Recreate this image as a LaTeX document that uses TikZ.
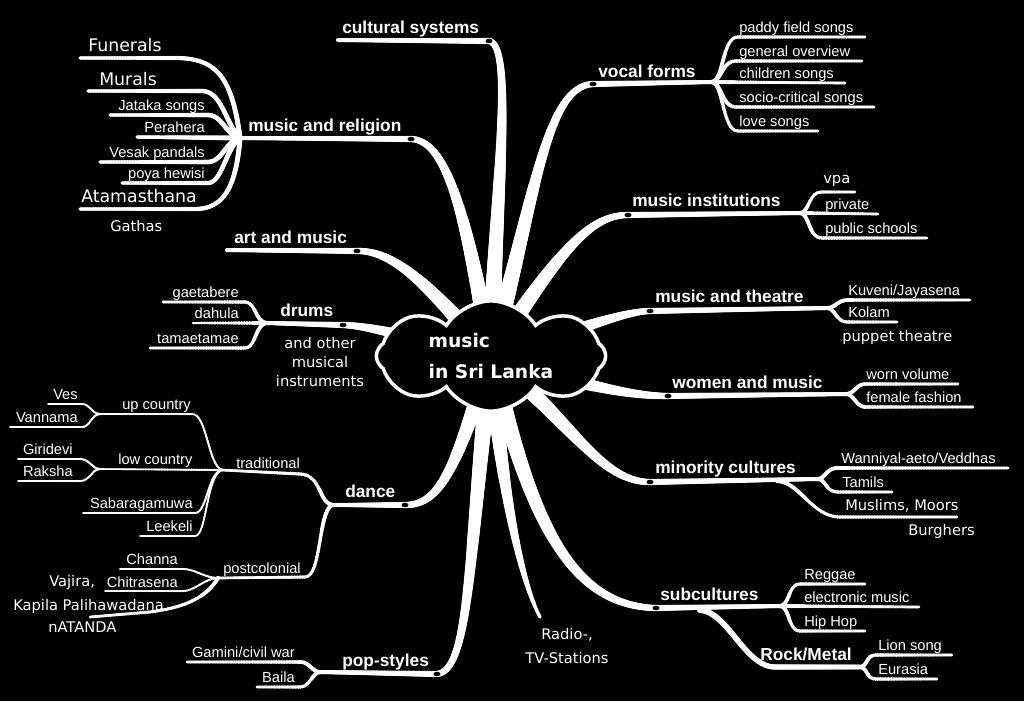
\documentclass[tikz,border=0pt]{standalone}
\usepackage{fontspec}
\setmainfont{Liberation Sans}
\newfontfamily\notefont{DejaVu Sans}
\usetikzlibrary{shapes.symbols,decorations.markings}

\tikzset{
  taper/.style 2 args={white, line width=2*#2pt, line cap=round,
    postaction={decorate, decoration={markings,
      mark=between positions 0 and 1 step 1.2pt with {%
        \pgfmathsetmacro\twr{#1-(#1-#2)*\pgfkeysvalueof{/pgf/decoration/mark info/distance from start}/\pgfdecoratedpathlength}%
        \fill[white] (0,0) circle (\twr pt);}}}},
  trunk/.style={taper={7}{2.3}},
  stem/.style={taper={2.4}{1.5}},
  twig/.style={taper={1.6}{1.0}},
  fattwig/.style={taper={2.0}{1.3}},
  thintwig/.style={taper={1.0}{0.6}},
  knot/.style={fill=black},
  topic/.style={text=white, inner sep=0pt, font=\bfseries\fontsize{13}{15}\selectfont},
  leaf/.style={text=white, inner sep=0pt, font=\fontsize{11}{13}\selectfont},
  note/.style={text=white, inner sep=0pt, font=\notefont\fontsize{11}{14}\selectfont},
  bignote/.style={text=white, inner sep=0pt, font=\notefont\fontsize{13}{15}\selectfont},
}

\begin{document}
\begin{tikzpicture}[x=0.75pt,y=-0.75pt]
  \fill[black] (0,0) rectangle (1024,701);
  \useasboundingbox (0,0) rectangle (1024,701);

  % branch points
  \coordinate (hub) at (491,356);
  \coordinate (cultDot) at (489,41);   \coordinate (cultEnd) at (338,40);
  \coordinate (relDot) at (411,139);   \coordinate (relFork) at (240,138);
  \coordinate (artDot) at (357,251);   \coordinate (artEnd) at (227,250);
  \coordinate (drumDot) at (343,325);  \coordinate (drumFork) at (267,323);
  \coordinate (danceDot) at (405,505); \coordinate (danceFork) at (333,505);
  \coordinate (popDot) at (437,674);   \coordinate (popFork) at (320,672);
  \coordinate (radioEnd) at (540,617);
  \coordinate (subDot) at (656,608);   \coordinate (subFork) at (780,606);
  \coordinate (minDot) at (650,482);   \coordinate (minFork) at (818,479);
  \coordinate (womDot) at (668,396);   \coordinate (womFork) at (847,394);
  \coordinate (thDot) at (650,311);    \coordinate (thFork) at (828,308);
  \coordinate (instDot) at (628,215);  \coordinate (instFork) at (800,213);
  \coordinate (vocDot) at (593,84);    \coordinate (vocFork) at (712,82);
  \coordinate (tradFork) at (222,470);
  \coordinate (upFork) at (100,414);
  \coordinate (lowFork) at (100,469);
  \coordinate (postFork) at (218,578);
  \coordinate (rockSplit) at (700,610);
  \coordinate (rockFork) at (860,667);
  \coordinate (minSplit) at (777,481);

  % trunks out of the cloud
  \draw[trunk] (hub) .. controls (495,200) and (515,45) .. (cultDot);
  \draw[trunk] (hub) .. controls (468,230) and (450,140) .. (relDot);
  \draw[trunk] (hub) .. controls (440,300) and (400,250) .. (artDot);
  \draw[trunk] (hub) .. controls (400,335) and (370,326) .. (drumDot);
  \draw[trunk] (hub) .. controls (455,470) and (440,505) .. (danceDot);
  \draw[trunk] (hub) .. controls (468,560) and (470,670) .. (popDot);
  \draw[taper={7}{1.2}] (hub) .. controls (500,480) and (520,580) .. (radioEnd);
  \draw[trunk] (hub) .. controls (530,520) and (570,606) .. (subDot);
  \draw[trunk] (hub) .. controls (570,420) and (600,482) .. (minDot);
  \draw[trunk] (hub) .. controls (580,385) and (630,396) .. (womDot);
  \draw[trunk] (hub) .. controls (580,330) and (620,312) .. (thDot);
  \draw[trunk] (hub) .. controls (560,250) and (590,215) .. (instDot);
  \draw[trunk] (hub) .. controls (535,200) and (545,86) .. (vocDot);

  % underlines
  \draw[stem] (cultDot) -- (cultEnd);
  \draw[stem] (relDot) -- (relFork);
  \draw[stem] (artDot) -- (artEnd);
  \draw[stem] (drumDot) -- (drumFork);
  \draw[stem] (danceDot) -- (danceFork);
  \draw[stem] (popDot) -- (popFork);
  \draw[stem] (subDot) -- (subFork);
  \draw[stem] (minDot) -- (minFork);
  \draw[stem] (womDot) -- (womFork);
  \draw[stem] (thDot) -- (thFork);
  \draw[stem] (instDot) -- (instFork);
  \draw[stem] (vocDot) -- (vocFork);

  % religion twigs
  \draw[fattwig] (relFork) .. controls (232,75) and (215,58) .. (175,58) -- (80,58);
  \draw[fattwig] (relFork) .. controls (226,125) and (222,91) .. (202,91) -- (88,91);
  \draw[fattwig] (relFork) .. controls (226,135) and (222,115) .. (208,115) -- (110,115);
  \draw[fattwig] (relFork) -- (137,137);
  \draw[fattwig] (relFork) .. controls (226,141) and (222,162) .. (208,162) -- (100,162);
  \draw[fattwig] (relFork) .. controls (226,148) and (222,183) .. (208,183) -- (122,183);
  \draw[fattwig] (relFork) .. controls (236,190) and (222,209) .. (195,209) -- (80,209);

  % vocal forms twigs
  \draw[twig] (vocFork) .. controls (724,80) and (722,37) .. (738,37) -- (865,37);
  \draw[twig] (vocFork) .. controls (722,80) and (722,61) .. (736,61) -- (862,61);
  \draw[twig] (vocFork) -- (845,83);
  \draw[twig] (vocFork) .. controls (722,84) and (722,107) .. (736,107) -- (874,107);
  \draw[twig] (vocFork) .. controls (724,84) and (722,131) .. (738,131) -- (818,131);

  % institutions, theatre, women
  \draw[twig] (instFork) .. controls (810,212) and (808,192) .. (822,192) -- (855,192);
  \draw[twig] (instFork) -- (878,214);
  \draw[twig] (instFork) .. controls (810,214) and (808,238) .. (822,238) -- (927,238);
  \draw[twig] (thFork) .. controls (836,307) and (838,300) .. (848,300) -- (970,300);
  \draw[twig] (thFork) .. controls (836,310) and (836,322) .. (848,322) -- (897,322);
  \draw[twig] (womFork) .. controls (855,393) and (856,384) .. (866,384) -- (958,384);
  \draw[twig] (womFork) .. controls (855,396) and (856,407) .. (866,407) -- (973,407);

  % minority cultures, subcultures
  \draw[twig] (minFork) .. controls (826,478) and (826,468) .. (838,468) -- (1008,468);
  \draw[twig] (minFork) .. controls (826,480) and (826,492) .. (838,492) -- (892,492);
  \draw[twig] (minSplit) .. controls (800,482) and (812,517) .. (840,517) -- (957,517);
  \draw[twig] (subFork) .. controls (790,605) and (788,584) .. (800,584) -- (865,584);
  \draw[twig] (subFork) -- (919,607);
  \draw[twig] (subFork) .. controls (790,607) and (788,631) .. (800,631) -- (865,631);
  \draw[taper={2.3}{1.8}] (rockSplit) .. controls (728,612) and (745,667) .. (775,667) -- (rockFork);
  \draw[twig] (rockFork) .. controls (868,666) and (866,655) .. (876,655) -- (952,655);
  \draw[twig] (rockFork) .. controls (868,668) and (866,679) .. (876,679) -- (937,679);

  % pop-styles, drums
  \draw[twig] (popFork) .. controls (312,672) and (310,662) .. (300,662) -- (187,662);
  \draw[twig] (popFork) .. controls (312,673) and (310,687) .. (300,687) -- (257,687);
  \draw[twig] (drumFork) .. controls (255,322) and (256,302) .. (245,302) -- (163,302);
  \draw[twig] (drumFork) -- (193,323);
  \draw[twig] (drumFork) .. controls (255,324) and (256,348) .. (245,348) -- (150,348);

  % dance
  \draw[twig] (danceFork) .. controls (318,503) and (322,475) .. (300,474) -- (tradFork);
  \draw[twig] (danceFork) .. controls (318,508) and (322,577) .. (305,577) -- (postFork);
  \draw[thintwig] (tradFork) .. controls (208,465) and (207,414) .. (192,414) -- (upFork);
  \draw[thintwig] (tradFork) -- (lowFork);
  \draw[thintwig] (tradFork) .. controls (208,472) and (207,513) .. (195,513) -- (83,513);
  \draw[thintwig] (tradFork) .. controls (206,475) and (207,536) .. (195,536) -- (140,536);
  \draw[thintwig] (upFork) .. controls (92,414) and (90,404) .. (82,404) -- (48,404);
  \draw[thintwig] (upFork) .. controls (92,414) and (90,427) .. (82,427) -- (10,427);
  \draw[thintwig] (lowFork) .. controls (92,469) and (90,459) .. (80,459) -- (18,459);
  \draw[thintwig] (lowFork) .. controls (92,469) and (90,481) .. (80,481) -- (18,481);
  \draw[thintwig] (postFork) .. controls (205,578) and (195,569) .. (183,569) -- (120,569);
  \draw[thintwig] (postFork) .. controls (205,578) and (195,591) .. (183,591) -- (105,591);
  \draw[twig] (postFork) .. controls (205,600) and (180,608) .. (150,612) -- (90,617);

  % dots on the branches
  \fill[knot] (cultDot) ellipse (3.5 and 2.3);
  \fill[knot] (relDot) ellipse (3.5 and 2.3);
  \fill[knot] (artDot) ellipse (3.5 and 2.3);
  \fill[knot] (drumDot) ellipse (3.5 and 2.3);
  \fill[knot] (danceDot) ellipse (3.5 and 2.3);
  \fill[knot] (popDot) ellipse (3.5 and 2.3);
  \fill[knot] (subDot) ellipse (3.5 and 2.3);
  \fill[knot] (minDot) ellipse (3.5 and 2.3);
  \fill[knot] (womDot) ellipse (3.5 and 2.3);
  \fill[knot] (thDot) ellipse (3.5 and 2.3);
  \fill[knot] (instDot) ellipse (3.5 and 2.3);
  \fill[knot] (vocDot) ellipse (3.5 and 2.3);

  % the cloud
  \node[cloud, cloud puffs=8, cloud puff arc=115, cloud ignores aspect,
        minimum width=172pt, minimum height=78pt, draw=white, fill=black,
        line width=2.6pt, align=left, text=white,
        font=\notefont\bfseries\fontsize{14}{23}\selectfont] (hubCloud) at (hub) {music\\in Sri Lanka};

  % main topics
  \node[topic, anchor=base west] (cultLbl) at (342,33) {cultural systems};
  \node[topic, anchor=base west] (relLbl) at (248,131) {music and religion};
  \node[topic, anchor=base west] (artLbl) at (234,243) {art and music};
  \node[topic, anchor=base west] (drumLbl) at (280,316) {drums};
  \node[topic, anchor=base west] (danceLbl) at (345,497) {dance};
  \node[topic, anchor=base west] (popLbl) at (342,666) {pop-styles};
  \node[topic, anchor=base west] (vocLbl) at (598,77) {vocal forms};
  \node[topic, anchor=base west] (instLbl) at (632,206) {music institutions};
  \node[topic, anchor=base west] (thLbl) at (655,302) {music and theatre};
  \node[topic, anchor=base west] (womLbl) at (672,388) {women and music};
  \node[topic, anchor=base west] (minLbl) at (655,473) {minority cultures};
  \node[topic, anchor=base west] (subLbl) at (660,600) {subcultures};
  \node[topic, anchor=base west] (rockLbl) at (760,660) {Rock/Metal};

  % religion
  \node[bignote, anchor=base west] (funLbl) at (88,51) {Funerals};
  \node[bignote, anchor=base west] (murLbl) at (99,85) {Murals};
  \node[leaf, anchor=base east] (jatLbl) at (205,110) {Jataka songs};
  \node[leaf, anchor=base east] (perLbl) at (205,132) {Perahera};
  \node[leaf, anchor=base east] (vesLbl) at (205,157) {Vesak pandals};
  \node[leaf, anchor=base east] (poyaLbl) at (205,178) {poya hewisi};
  \node[bignote, anchor=base west] (ataLbl) at (81,202) {Atamasthana};
  \node[note, anchor=base west] (gatLbl) at (110,231) {Gathas};

  % vocal forms
  \node[leaf, anchor=base west] (paddyLbl) at (739,32) {paddy field songs};
  \node[leaf, anchor=base west] (overLbl) at (739,56) {general overview};
  \node[leaf, anchor=base west] (childLbl) at (739,78) {children songs};
  \node[leaf, anchor=base west] (socLbl) at (739,102) {socio-critical songs};
  \node[leaf, anchor=base west] (loveLbl) at (739,126) {love songs};

  % institutions, theatre, women
  \node[note, anchor=base west] (vpaLbl) at (823,183) {vpa};
  \node[leaf, anchor=base west] (privLbl) at (825,209) {private};
  \node[leaf, anchor=base west] (pubLbl) at (825,233) {public schools};
  \node[leaf, anchor=base west] (kuvLbl) at (848,295) {Kuveni/Jayasena};
  \node[leaf, anchor=base west] (kolLbl) at (848,317) {Kolam};
  \node[note, anchor=base west] (pupLbl) at (842,341) {puppet theatre};
  \node[leaf, anchor=base west] (wornLbl) at (866,379) {worn volume};
  \node[leaf, anchor=base west] (fashLbl) at (866,402) {female fashion};

  % minority cultures, subcultures
  \node[leaf, anchor=base west] (vedLbl) at (841,463) {Wanniyal-aeto/Veddhas};
  \node[leaf, anchor=base west] (tamLbl) at (842,487) {Tamils};
  \node[note, anchor=base west] (musLbl) at (845,510) {Muslims, Moors};
  \node[note, anchor=base west] (burLbl) at (908,535) {Burghers};
  \node[leaf, anchor=base west] (regLbl) at (804,579) {Reggae};
  \node[leaf, anchor=base west] (elecLbl) at (804,602) {electronic music};
  \node[leaf, anchor=base west] (hipLbl) at (804,626) {Hip Hop};
  \node[leaf, anchor=base west] (lionLbl) at (878,650) {Lion song};
  \node[leaf, anchor=base west] (eurLbl) at (878,674) {Eurasia};
  \node[note, align=center, font=\notefont\fontsize{11}{18}\selectfont] (radioLbl) at (567,646) {Radio-,\\TV-Stations};

  % pop-styles, drums
  \node[leaf, anchor=base east] (gamLbl) at (295,657) {Gamini/civil war};
  \node[leaf, anchor=base east] (baiLbl) at (295,682) {Baila};
  \node[leaf, anchor=base east] (gaeLbl) at (239,297) {gaetabere};
  \node[leaf, anchor=base east] (dahLbl) at (239,318) {dahula};
  \node[leaf, anchor=base east] (tamaLbl) at (239,343) {tamaetamae};
  \node[note, align=center] (instrLbl) at (320,362) {and other\\musical\\instruments};

  % dance
  \node[leaf, anchor=base west] (tradLbl) at (236,468) {traditional};
  \node[leaf, anchor=base west] (upLbl) at (122,409) {up country};
  \node[leaf, anchor=base west] (lowLbl) at (118,464) {low country};
  \node[leaf, anchor=base east] (vesLbl2) at (78,399) {Ves};
  \node[leaf, anchor=base east] (vanLbl) at (78,422) {Vannama};
  \node[leaf, anchor=base east] (girLbl) at (73,454) {Giridevi};
  \node[leaf, anchor=base east] (rakLbl) at (73,476) {Raksha};
  \node[leaf, anchor=base east] (sabLbl) at (193,508) {Sabaragamuwa};
  \node[leaf, anchor=base east] (leeLbl) at (193,531) {Leekeli};
  \node[leaf, anchor=base west] (postLbl) at (223,573) {postcolonial};
  \node[leaf, anchor=base east] (chanLbl) at (178,564) {Channa};
  \node[leaf, anchor=base east] (chitLbl) at (178,587) {Chitrasena};
  \node[note, anchor=base west] (vajLbl) at (49,586) {Vajira,};
  \node[note, anchor=base west] (kapLbl) at (13,610) {Kapila Palihawadana};
  \node[note, anchor=base west] (natLbl) at (48,632) {nATANDA};
\end{tikzpicture}
\end{document}
